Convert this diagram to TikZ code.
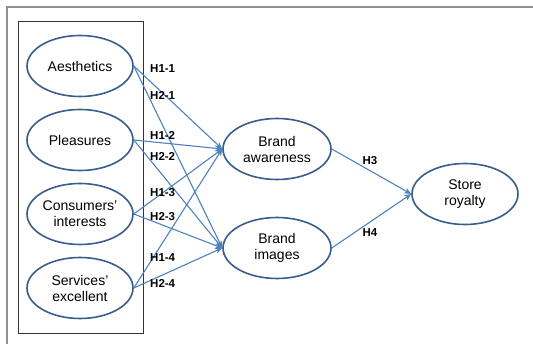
\documentclass[tikz,border=0pt]{standalone}
\usepackage{fontspec}
\setmainfont{Liberation Sans}
\usetikzlibrary{arrows.meta,shapes.geometric}
\definecolor{ellcol}{HTML}{385D8A}
\definecolor{arrcol}{HTML}{4F81BD}
\definecolor{framecol}{HTML}{909090}
\begin{document}
\begin{tikzpicture}[x=1pt,y=-1pt,
  ell/.style={ellipse, draw=ellcol, line width=1.6pt, minimum width=106pt, minimum height=61pt, inner sep=0pt, align=center, font=\fontsize{14}{16}\selectfont},
  conn/.style={draw=arrcol, line width=1.1pt, -{Stealth[length=7pt,width=6pt]}},
  hlab/.style={font=\fontsize{11.5}{13}\selectfont\bfseries, inner sep=0pt}
]
\useasboundingbox (0,0) rectangle (533,344);
\draw[framecol, line width=1.3pt] (7,344) -- (7,7) -- (533,7);
\draw[black!80, line width=0.8pt] (18,21) rectangle (143,333);
\node[ell] (aes) at (80,66) {Aesthetics};
\node[ell] (ple) at (80,140) {Pleasures};
\node[ell] (con) at (80,214) {Consumers’\\interests};
\node[ell] (ser) at (80,288) {Services’\\excellent};
\node[ell, minimum width=108pt] (aw) at (277,149) {Brand\\awareness};
\node[ell, minimum width=108pt] (im) at (277,248) {Brand\\images};
\node[ell] (st) at (465,194) {Store\\royalty};
\foreach \s in {aes,ple,con,ser}{
  \draw[conn] (\s.east) -- (aw.west);
  \draw[conn] (\s.east) -- (im.west);
}
\draw[conn] (aw.east) -- (st.west);
\draw[conn] (im.east) -- (st.west);
\node[hlab, anchor=west] (l11) at (150,69) {H1-1};
\node[hlab, anchor=west] (l21) at (150,95) {H2-1};
\node[hlab, anchor=west] (l12) at (150,135) {H1-2};
\node[hlab, anchor=west] (l22) at (150,156) {H2-2};
\node[hlab, anchor=west] (l13) at (150,193) {H1-3};
\node[hlab, anchor=west] (l23) at (150,217) {H2-3};
\node[hlab, anchor=west] (l14) at (150,258) {H1-4};
\node[hlab, anchor=west] (l24) at (150,283) {H2-4};
\node[hlab] (l3) at (370,161) {H3};
\node[hlab] (l4) at (370,233) {H4};
\end{tikzpicture}
\end{document}
